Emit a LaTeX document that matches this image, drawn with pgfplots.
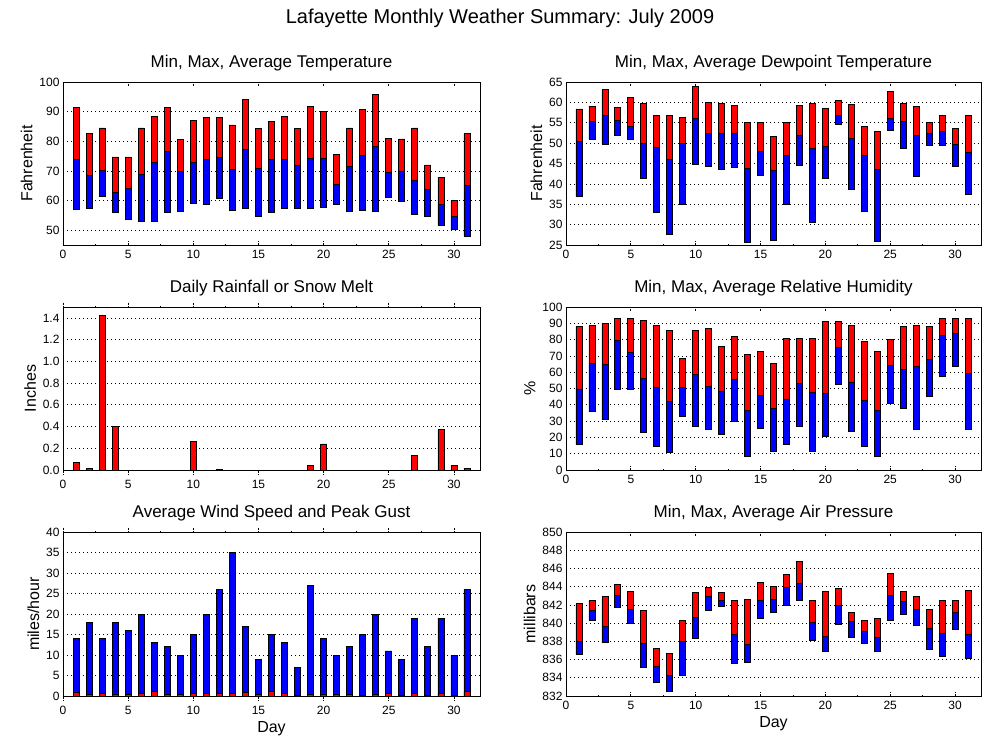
\documentclass[border=0pt]{standalone}
\usepackage{fontspec}
\setmainfont{Liberation Sans}
\usepackage{pgfplots}
\usepackage{pgfplotstable}
\pgfplotsset{compat=1.18}

% day  min  avg  max
\pgfplotstableread{
day min avg max
1 56.9 73.8 91.3
2 57.2 68.4 82.5
3 61.3 70.3 84.5
4 56.0 62.6 74.7
5 53.6 64.0 74.7
6 52.8 68.7 84.5
7 53.1 72.8 88.3
8 56.0 76.5 91.3
9 56.2 69.8 80.6
10 59.2 72.8 87.0
11 58.7 73.8 88.0
12 60.7 74.5 88.0
13 56.6 70.4 85.5
14 57.3 77.2 94.0
15 54.6 70.8 84.2
16 56.0 73.8 86.6
17 57.3 73.8 88.3
18 57.3 71.8 84.2
19 57.3 74.2 91.7
20 57.6 74.2 90.0
21 58.7 65.4 75.7
22 56.3 71.5 84.5
23 56.6 75.2 90.6
24 56.3 78.2 95.7
25 61.0 69.4 81.1
26 59.7 70.0 80.8
27 55.3 66.7 84.5
28 54.6 63.7 72.0
29 51.6 58.7 67.8
30 50.2 54.6 59.9
31 47.9 65.1 82.5
}\temptab

\pgfplotstableread{
day min avg max
1 36.9 50.4 58.4
2 50.9 55.3 59.1
3 49.8 56.8 63.1
4 51.9 55.5 58.7
5 50.9 54.2 61.2
6 41.3 49.9 59.7
7 33.0 48.9 56.8
8 27.6 46.1 56.8
9 35.0 49.9 56.3
10 44.8 56.0 63.9
11 44.3 52.3 59.9
12 43.5 52.3 59.7
13 44.0 52.3 59.2
14 25.7 43.8 55.0
15 42.1 47.9 55.0
16 26.1 43.3 51.6
17 35.0 47.0 55.0
18 44.5 51.9 59.2
19 30.6 48.7 59.7
20 41.3 49.2 58.5
21 54.6 56.8 60.4
22 38.6 51.1 59.4
23 33.2 47.0 54.2
24 25.9 43.5 52.8
25 53.2 56.0 62.6
26 48.7 55.3 59.7
27 41.8 51.9 59.1
28 49.4 52.3 55.0
29 49.4 52.8 56.8
30 44.3 49.7 53.6
31 37.4 47.7 56.8
}\dewtab

\pgfplotstableread{
day min avg max
1 15.6 49.7 88.0
2 35.7 65.5 88.6
3 30.8 64.9 89.9
4 49.7 79.5 92.9
5 49.7 72.2 92.9
6 22.9 56.4 91.7
7 14.4 50.9 88.6
8 10.8 41.8 85.6
9 32.7 50.9 68.6
10 26.6 58.8 85.6
11 24.7 51.5 86.8
12 21.7 48.5 75.9
13 29.6 55.8 81.9
14 8.3 36.3 71.0
15 25.4 46.0 72.8
16 11.4 37.5 65.5
17 15.6 43.6 80.7
18 26.6 53.3 80.7
19 11.4 47.9 80.7
20 20.5 46.7 91.1
21 52.7 75.3 91.1
22 23.5 54.0 88.6
23 14.4 43.0 78.9
24 8.3 36.3 72.8
25 40.6 64.3 80.1
26 37.5 61.9 88.0
27 24.7 63.7 88.6
28 45.4 68.0 88.0
29 57.6 82.6 92.9
30 63.7 83.8 92.9
31 24.7 59.4 92.9
}\humtab

\pgfplotstableread{
day min avg max
1 836.54 837.96 842.13
2 840.27 841.36 842.46
3 837.85 839.61 842.90
4 841.69 843.01 844.22
5 839.94 841.47 843.45
6 835.11 837.74 841.36
7 833.46 835.22 837.19
8 832.47 834.23 836.64
9 834.23 837.96 840.27
10 838.29 840.60 843.34
11 841.36 842.90 843.89
12 841.80 842.46 843.34
13 835.55 838.73 842.46
14 835.66 837.63 842.57
15 840.49 842.46 844.44
16 841.14 842.57 844.00
17 841.91 843.89 845.32
18 842.46 844.33 846.74
19 838.07 840.05 842.46
20 836.86 838.51 843.45
21 839.83 841.91 843.78
22 838.40 840.16 841.14
23 837.74 839.06 840.27
24 836.86 838.40 840.49
25 840.27 843.01 845.43
26 840.93 842.35 843.45
27 839.72 841.47 842.90
28 837.08 839.39 841.47
29 836.32 838.84 842.46
30 839.28 841.14 842.46
31 836.10 838.73 843.56
}\prestab

\pgfplotstableread{
day avg gust
1 1.0 14
2 0.5 18
3 0.65 14
4 0.5 18
5 0.4 16
6 0.65 20
7 1.1 13
8 0.5 12
9 0.4 10
10 0.6 15
11 0.65 20
12 0.65 26
13 0.65 35
14 0.9 17
15 0.3 9
16 1.1 15
17 0.65 13
18 0.15 7
19 0.5 27
20 0.5 14
21 0.5 10
22 0.5 12
23 0.15 15
24 0.5 20
25 0.65 11
26 0.15 9
27 0.65 19
28 0.15 12
29 0.65 19
30 0.15 10
31 1.1 26
}\windtab

\pgfplotsset{
  panel/.style={
    scale only axis, width=417pt, height=163pt, anchor=south west,
    xmin=0, xmax=32, xtick={0,5,...,30}, minor x tick num=1,
    tick align=inside, major tick length=4.5pt, minor tick length=1.2pt,
    xtick style={black, line width=0.8pt, dash pattern=on 0.8pt off 0.8pt},
    ytick style={draw=none},
    ymajorgrids,
    major grid style={black, line width=0.7pt, dash pattern=on 0.7pt off 3.3pt},
    axis line style={black, line width=0.8pt},
    tick label style={font=\fontsize{12}{14}\selectfont},
    xticklabel style={yshift=-2pt},
    label style={font=\fontsize{16}{19}\selectfont},
    title style={font=\fontsize{17}{20}\selectfont, at={(0.5,1)}, anchor=center, yshift=13pt},
    /pgf/number format/assume math mode=true,
    bar width=6pt,
  },
  seg/.style={draw=black, line width=0.8pt, fill=#1},
}

\begin{document}
\begin{tikzpicture}
\useasboundingbox (0pt,0pt) rectangle (1000pt,-750pt);
\node[font=\fontsize{20}{24}\selectfont] at (500pt,-18pt) {Lafayette Monthly Weather Summary: July 2009};

% temperature
\begin{axis}[panel, at={(63pt,-245pt)}, ybar stacked,
    ymin=45, ymax=100, ytick={50,60,...,100},
    title={Min, Max, Average Temperature}, ylabel={Fahrenheit}]
\addplot[draw=none, fill=none] table[x=day, y=min] \temptab;
\addplot[seg=blue] table[x=day, y expr=\thisrow{avg}-\thisrow{min}] \temptab;
\addplot[seg=red] table[x=day, y expr=\thisrow{max}-\thisrow{avg}] \temptab;
\end{axis}

% dewpoint
\begin{axis}[panel, width=415pt, at={(566pt,-245pt)}, ybar stacked,
    ymin=25, ymax=65, ytick={25,30,...,65},
    title={Min, Max, Average Dewpoint Temperature}, ylabel={Fahrenheit}]
\addplot[draw=none, fill=none] table[x=day, y=min] \dewtab;
\addplot[seg=blue] table[x=day, y expr=\thisrow{avg}-\thisrow{min}] \dewtab;
\addplot[seg=red] table[x=day, y expr=\thisrow{max}-\thisrow{avg}] \dewtab;
\end{axis}

% rainfall
\begin{axis}[panel, at={(63pt,-470pt)}, ybar,
    ymin=0, ymax=1.5, ytick={0,0.2,0.4,0.6,0.8,1.0,1.2,1.4},
    yticklabel style={/pgf/number format/.cd, fixed, fixed zerofill, precision=1},
    title={Daily Rainfall or Snow Melt}, ylabel={Inches}]
\addplot[seg=red, bar shift=0pt] coordinates {
 (1,0.07) (2,0.015) (3,1.42) (4,0.40) (10,0.26) (12,0.008)
 (19,0.04) (20,0.24) (27,0.13) (29,0.37) (30,0.04) (31,0.015)};
\end{axis}

% humidity
\begin{axis}[panel, width=415pt, at={(566pt,-470pt)}, ybar stacked,
    ymin=0, ymax=100, ytick={0,10,...,100},
    title={Min, Max, Average Relative Humidity}, ylabel={\%}]
\addplot[draw=none, fill=none] table[x=day, y=min] \humtab;
\addplot[seg=blue] table[x=day, y expr=\thisrow{avg}-\thisrow{min}] \humtab;
\addplot[seg=red] table[x=day, y expr=\thisrow{max}-\thisrow{avg}] \humtab;
\end{axis}

% wind
\begin{axis}[panel, height=164pt, at={(63pt,-696pt)}, ybar,
    ymin=0, ymax=40, ytick={0,5,...,40},
    title={Average Wind Speed and Peak Gust}, ylabel={miles/hour}, xlabel={Day}]
\addplot[seg=blue, bar shift=0pt] table[x=day, y=gust] \windtab;
\addplot[seg=red, bar shift=0pt] table[x=day, y=avg] \windtab;
\end{axis}

% pressure
\begin{axis}[panel, width=415pt, height=164pt, at={(566pt,-696pt)}, ybar stacked,
    ymin=832, ymax=850, ytick={832,834,...,850},
    title={Min, Max, Average Air Pressure}, ylabel={millibars}, xlabel={Day}]
\addplot[draw=none, fill=none] table[x=day, y=min] \prestab;
\addplot[seg=blue] table[x=day, y expr=\thisrow{avg}-\thisrow{min}] \prestab;
\addplot[seg=red] table[x=day, y expr=\thisrow{max}-\thisrow{avg}] \prestab;
\end{axis}
\end{tikzpicture}
\end{document}
